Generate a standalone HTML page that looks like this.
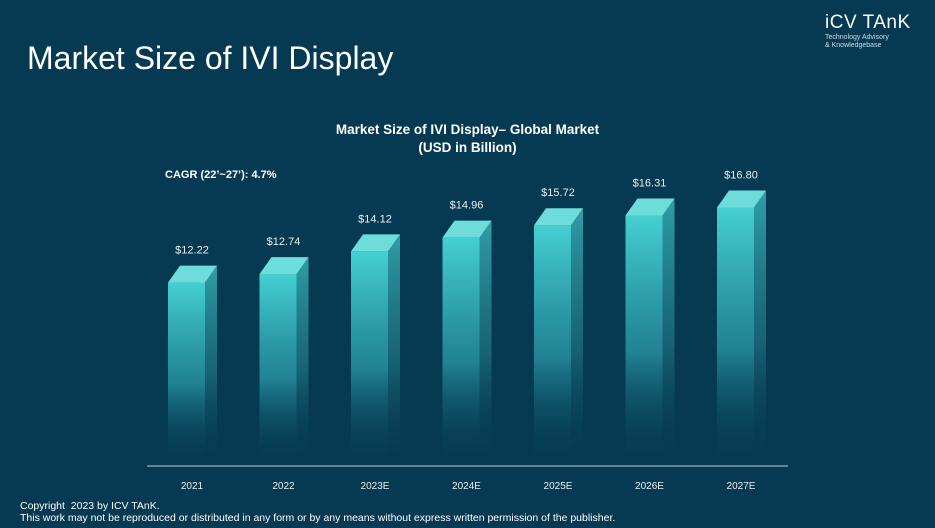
<!DOCTYPE html>
<html><head><meta charset="utf-8"><style>
body{margin:0;background:#053a52;}
#root{position:relative;width:935px;height:528px;background:#053a52;overflow:hidden;font-family:"Liberation Sans",sans-serif;color:#fff;}
.t{position:absolute;white-space:nowrap;}
</style></head><body>
<div id="root">
<div class="t" style="left:27px;top:40px;font-size:32px;">Market Size of IVI Display</div>
<div class="t" style="left:825px;top:12px;">
 <div style="font-size:19px;letter-spacing:0.5px;">iCV TAnK</div>
 <div style="font-size:7px;line-height:8px;color:#d0dde4;">Technology Advisory<br>&amp; Knowledgebase</div>
</div>
<div class="t" style="left:0;width:935px;top:121px;text-align:center;font-size:13.5px;font-weight:bold;line-height:18px;">Market Size of IVI Display– Global Market<br>(USD in Billion)</div>
<div class="t" style="left:165px;top:169px;font-size:11px;font-weight:bold;">CAGR (22’~27’): 4.7%</div>
<svg id="chart" width="935" height="528" style="position:absolute;left:0;top:0">
<defs>
<linearGradient id="gf" x1="0" y1="0" x2="0" y2="1"><stop offset="0" stop-color="#45d0d2"/><stop offset="0.55" stop-color="#2a9aa8" stop-opacity="0.75"/><stop offset="1" stop-color="#053a52" stop-opacity="0"/></linearGradient>
<linearGradient id="gs" x1="0" y1="0" x2="0" y2="1"><stop offset="0" stop-color="#2f9ea6"/><stop offset="0.55" stop-color="#1d6f80" stop-opacity="0.75"/><stop offset="1" stop-color="#053a52" stop-opacity="0"/></linearGradient>
</defs>
<line x1="147" y1="466" x2="788" y2="466" stroke="#c8d3d9" stroke-width="1"/>
</svg>
<div class="t" style="left:20px;top:500px;font-size:10.5px;line-height:12px;">Copyright &nbsp;2023 by ICV TAnK.<br>This work may not be reproduced or distributed in any form or by any means without express written permission of the publisher.</div>
</div>
<script>
const categories=["2021","2022","2023E","2024E","2025E","2026E","2027E"];
const values=[12.22,12.74,14.12,14.96,15.72,16.31,16.80];
const valueLabels=["$12.22","$12.74","$14.12","$14.96","$15.72","$16.31","$16.80"];
const svg=document.getElementById('chart');
const NS='http://www.w3.org/2000/svg';
const baseY=466,scale=16.4,offset=17,x0=192,step=91.5,fw=37,dp=12,rise=17;
const xPos=i=>x0+i*step;
const yPos=v=>baseY-(v*scale-offset);
function mk(tag,attrs){const e=document.createElementNS(NS,tag);for(const k in attrs)e.setAttribute(k,attrs[k]);svg.appendChild(e);return e;}
categories.forEach((c,i)=>{
 const cx=xPos(i),l=cx-24,top=yPos(values[i]);
 const g=document.createElementNS(NS,'g');
 
 
 svg.appendChild(g);
 const f=document.createElementNS(NS,'rect');
 f.setAttribute('x',l);f.setAttribute('y',top);f.setAttribute('width',fw);f.setAttribute('height',baseY-top);f.setAttribute('fill','url(#gf)');
 g.appendChild(f);
 const s=document.createElementNS(NS,'polygon');
 s.setAttribute('points',`${l+fw},${top} ${l+fw+dp},${top-rise} ${l+fw+dp},${baseY-rise} ${l+fw},${baseY}`);
 s.setAttribute('fill','url(#gs)');
 g.appendChild(s);
 const t=document.createElementNS(NS,'polygon');
 t.setAttribute('points',`${l},${top} ${l+dp},${top-rise} ${l+fw+dp},${top-rise} ${l+fw},${top}`);
 t.setAttribute('fill','#6fdcdc');
 g.appendChild(t);
 const vl=mk('text',{x:cx,y:top-29,'text-anchor':'middle','font-size':'11','fill':'#e8f0f3','font-family':'Liberation Sans, sans-serif'});
 vl.textContent=valueLabels[i];
 
 
 const xl=mk('text',{x:cx,y:489,'text-anchor':'middle','font-size':'10','fill':'#e8f0f3','font-family':'Liberation Sans, sans-serif'});
 xl.textContent=c;
 
 
});
</script>
</body></html>
